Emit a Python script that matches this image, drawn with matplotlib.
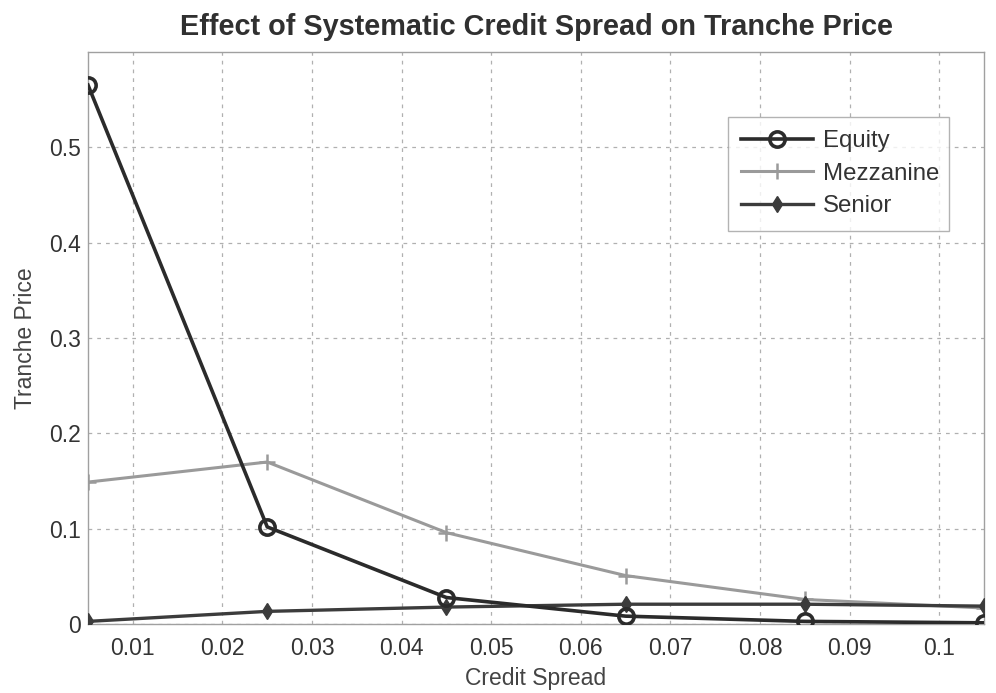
import matplotlib
matplotlib.use("Agg")
import matplotlib.pyplot as plt
import numpy as np

# Credit spread values (x axis)
spread = [0.005, 0.025, 0.045, 0.065, 0.085, 0.105]

# tranche prices
equity = [0.565, 0.102, 0.028, 0.0085, 0.003, 0.0015]
mezzanine = [0.149, 0.170, 0.096, 0.051, 0.026, 0.017]
senior = [0.003, 0.0135, 0.018, 0.021, 0.021, 0.019]

xticks = [0.01, 0.02, 0.03, 0.04, 0.05, 0.06, 0.07, 0.08, 0.09, 0.1]
xticklabels = ["0.01", "0.02", "0.03", "0.04", "0.05", "0.06", "0.07", "0.08", "0.09", "0.1"]
yticks = [0, 0.1, 0.2, 0.3, 0.4, 0.5]
yticklabels = ["0", "0.1", "0.2", "0.3", "0.4", "0.5"]

plt.rcParams['font.family'] = ['Liberation Sans', 'DejaVu Sans']

fig = plt.figure(figsize=(9.96, 6.93), dpi=100)
ax = fig.add_axes([0.0884, 0.0992, 0.8996, 0.8262])

ax.plot(spread, equity, color='#2b2b2b', linewidth=2.6, marker='o',
        markersize=11, markerfacecolor='none', markeredgewidth=2.6,
        label='Equity', zorder=4)
ax.plot(spread, mezzanine, color='#9a9a9a', linewidth=2.2, marker='+',
        markersize=12, markeredgewidth=1.8, label='Mezzanine', zorder=3)
ax.plot(spread, senior, color='#3c3c3c', linewidth=2.4, marker='d',
        markersize=8, label='Senior', zorder=3)

ax.set_xlim(0.005, 0.105)
ax.set_ylim(0, 0.6)
ax.set_xticks(xticks)
ax.set_xticklabels(xticklabels)
ax.set_yticks(yticks)
ax.set_yticklabels(yticklabels)

ax.grid(True, color='#b0b0b0', linestyle=(0, (3, 4)), linewidth=0.9)
for s in ax.spines.values():
    s.set_color('#a0a0a0')
    s.set_linewidth(1.0)
ax.tick_params(axis='both', length=0, labelsize=16.5, labelcolor='#333333')
ax.tick_params(axis='x', pad=9)
ax.tick_params(axis='y', pad=5)

ax.set_xlabel('Credit Spread', fontsize=16.5, color='#444444', labelpad=5)
ax.set_ylabel('Tranche Price', fontsize=16.5, color='#444444', labelpad=9)
ax.set_title('Effect of Systematic Credit Spread on Tranche Price',
             fontsize=20.8, fontweight='bold', color='#303030', pad=12)

leg = ax.legend(loc='upper left', bbox_to_anchor=(0.731, 0.672, 0.222, 0.159),
                bbox_transform=fig.transFigure, mode='expand',
                fontsize=17.3, frameon=True, fancybox=False,
                handlelength=3.0, handletextpad=0.4, borderpad=0.55,
                labelspacing=0.44, borderaxespad=0)
leg.get_frame().set_edgecolor('#a0a0a0')
leg.get_frame().set_linewidth(1.0)
for t in leg.get_texts():
    t.set_color('#333333')

fig.savefig('out.png', dpi=100)
